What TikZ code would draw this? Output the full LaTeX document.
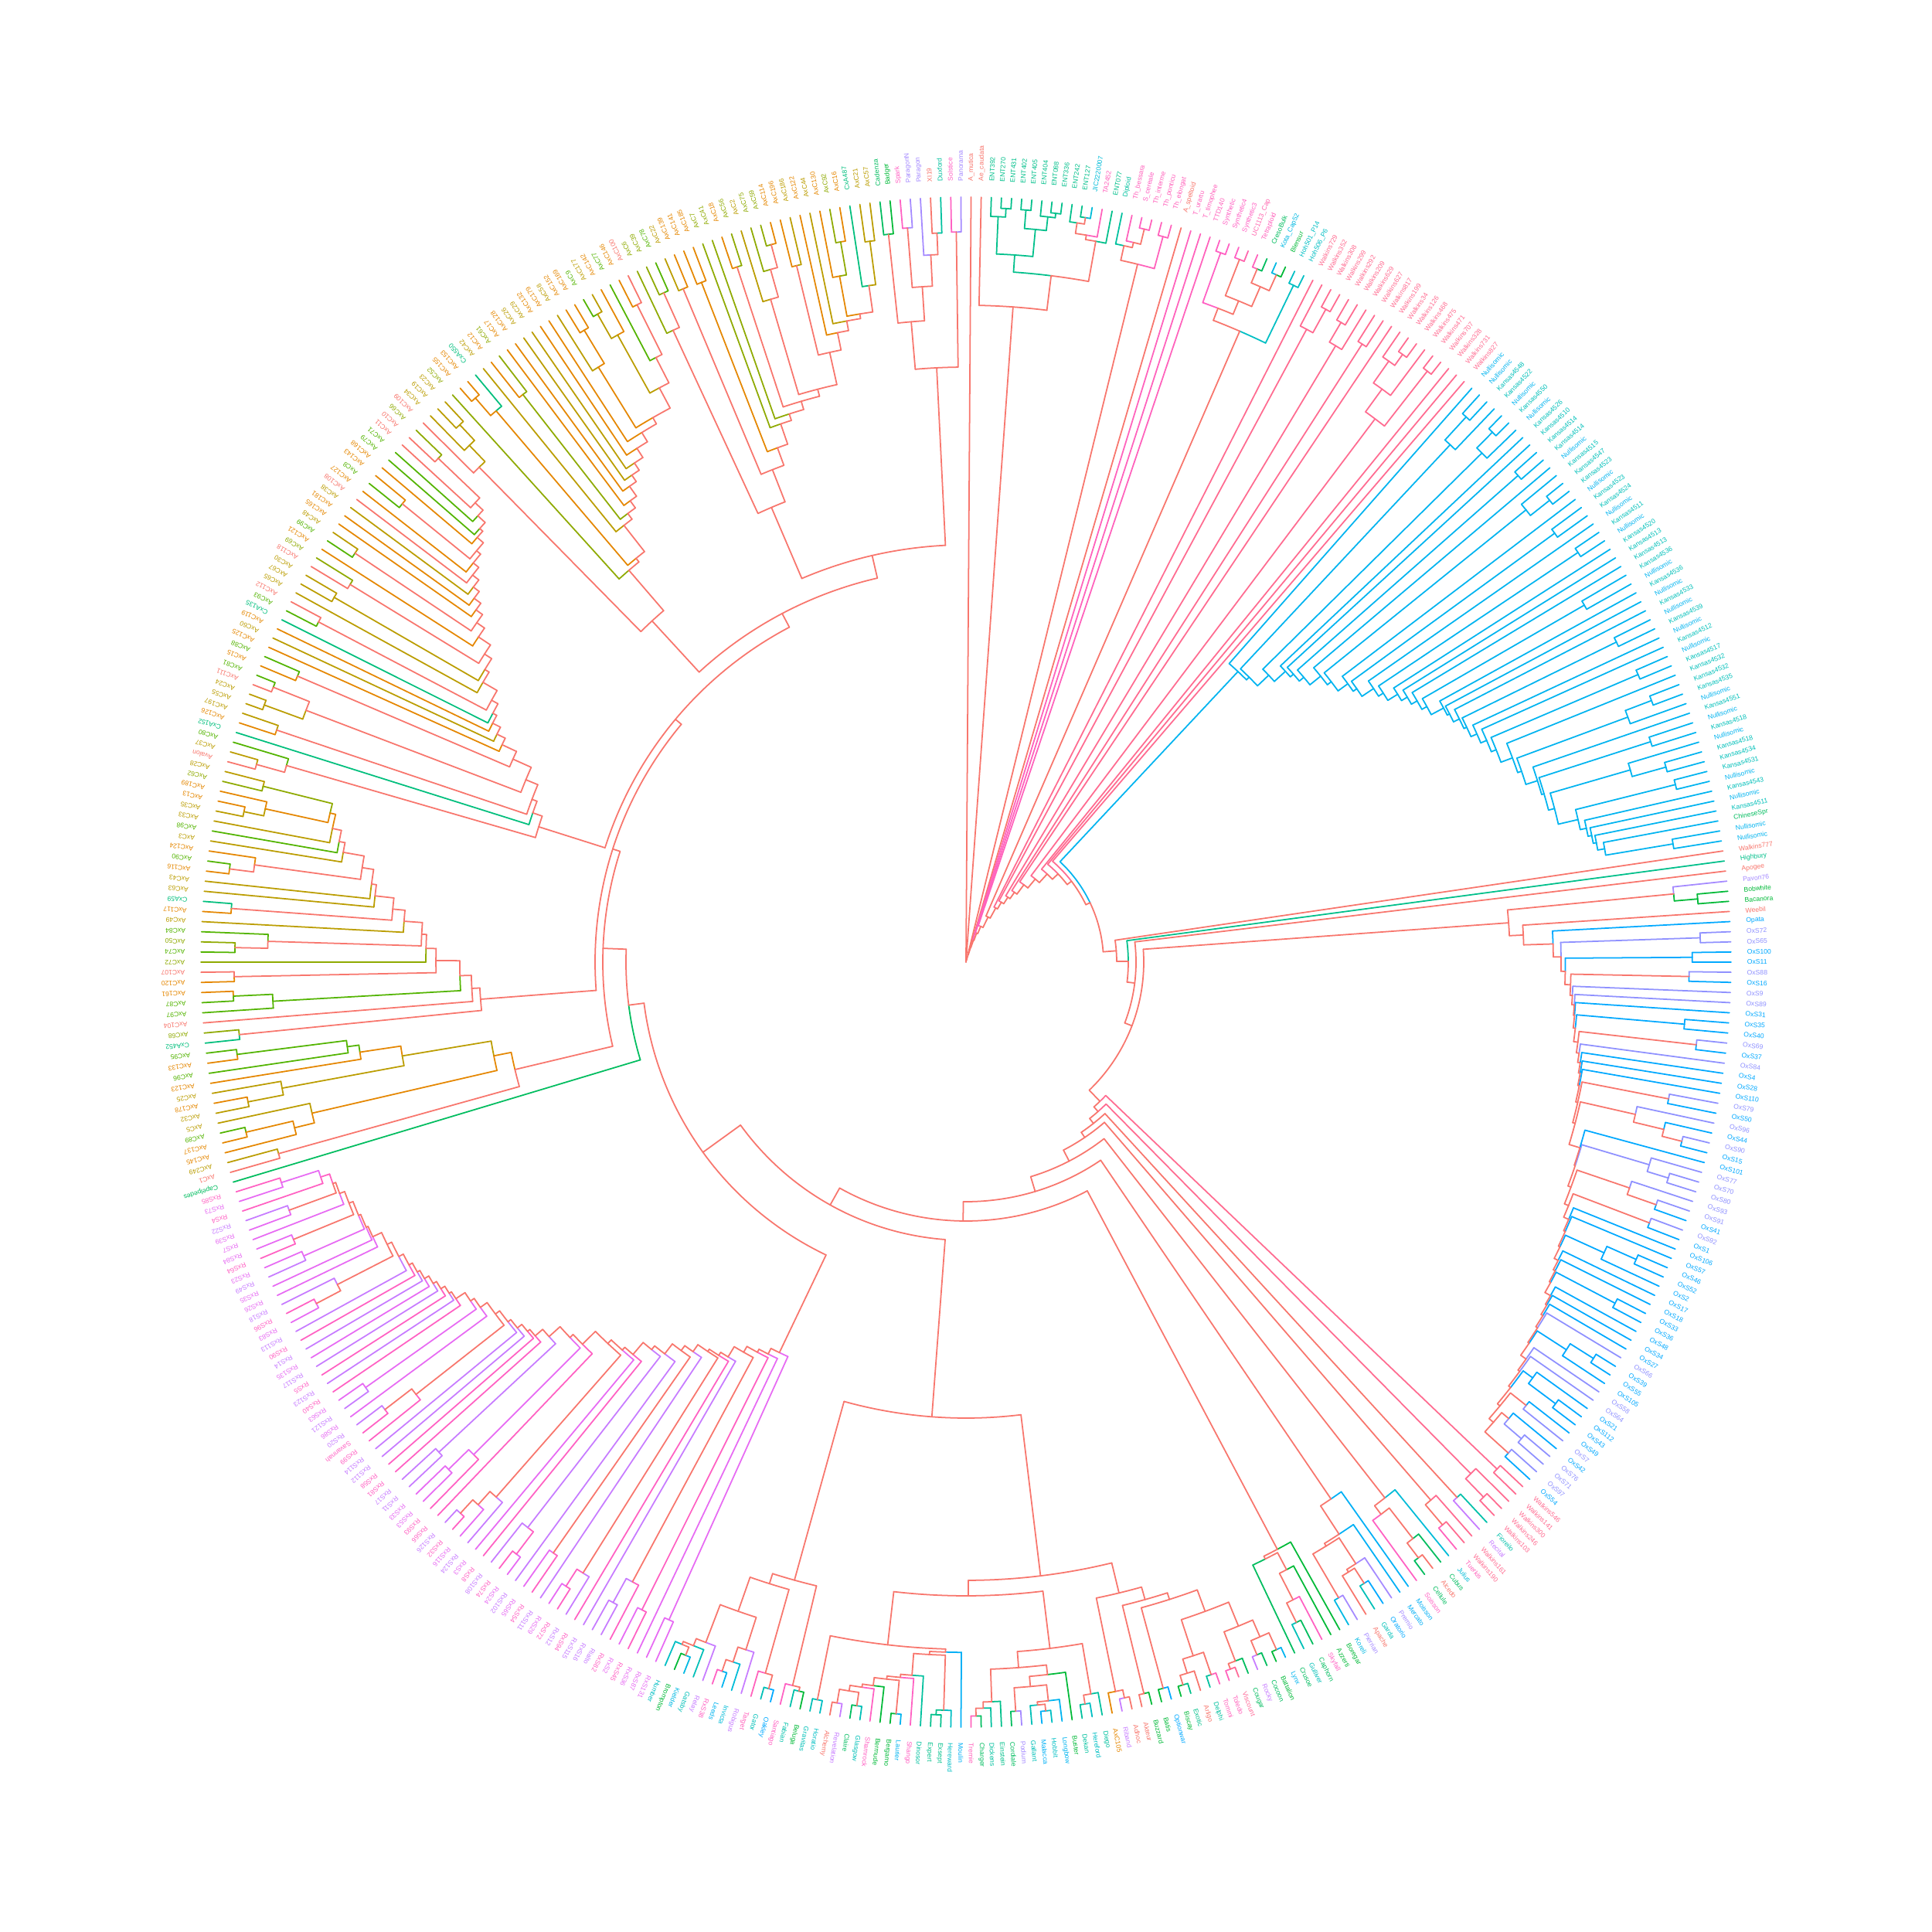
\documentclass[tikz,border=0pt]{standalone}
\usepackage{fontspec}
\newfontfamily\leaffont{Liberation Sans}
\definecolor{mix}{HTML}{F8766D}
\definecolor{cA}{HTML}{F8766D}
\definecolor{cAo}{HTML}{E58700}
\definecolor{cAy}{HTML}{BB9D00}
\definecolor{cAg}{HTML}{8FAA00}
\definecolor{cAG}{HTML}{53B400}
\definecolor{cCx}{HTML}{00BF7D}
\definecolor{cB}{HTML}{00BA38}
\definecolor{cC}{HTML}{00BD5F}
\definecolor{cCS}{HTML}{00BD5F}
\definecolor{cD}{HTML}{00C19F}
\definecolor{cE}{HTML}{00C08B}
\definecolor{cF}{HTML}{00C1AA}
\definecolor{cG}{HTML}{00C0B8}
\definecolor{cH}{HTML}{00BFC4}
\definecolor{cI}{HTML}{00BCD8}
\definecolor{cJ}{HTML}{00BCD8}
\definecolor{cK}{HTML}{00B9E3}
\definecolor{cKan}{HTML}{00C0BA}
\definecolor{cL}{HTML}{00B4F0}
\definecolor{cM}{HTML}{00B0F6}
\definecolor{cN}{HTML}{00B4F0}
\definecolor{cO}{HTML}{00A9FF}
\definecolor{cOl}{HTML}{8F91FF}
\definecolor{cP}{HTML}{A58AFF}
\definecolor{cR}{HTML}{C77CFF}
\definecolor{cRm}{HTML}{E76BF3}
\definecolor{cRp}{HTML}{FF61C3}
\definecolor{cS}{HTML}{FF61C3}
\definecolor{cT}{HTML}{FF62BC}
\definecolor{cU}{HTML}{FF65AE}
\definecolor{cV}{HTML}{FF6A98}
\definecolor{cW}{HTML}{FF6C91}
\expandafter\def\csname bcmap@cKan\endcsname{cN}
\expandafter\def\csname bcmap@cCS\endcsname{cN}
% colour families (mixing inside a family may keep a family colour)
\expandafter\def\csname fam@cAo\endcsname{ax}
\expandafter\def\csname fam@cAy\endcsname{ax}
\expandafter\def\csname fam@cAg\endcsname{ax}
\expandafter\def\csname fam@cAG\endcsname{ax}
\expandafter\def\csname fam@cCx\endcsname{ax}
\expandafter\def\csname fam@cR\endcsname{rx}
\expandafter\def\csname fam@cRm\endcsname{rx}
\expandafter\def\csname fam@cRp\endcsname{rx}
\def\lfnt{\leaffont\fontsize{2.45}{2.7}\selectfont}
% ---------- tree macros ----------
\def\retpos{0}\def\retcol{mix}
\def\famof#1{\ifcsname fam@#1\endcsname\csname fam@#1\endcsname\else x#1\fi}
\def\Tn#1#2#3{%
 \begingroup
 \let\tnMyP\parentr
 \def\parentr{#1}%
 #2\edef\tnPL{\retpos}\edef\tnCL{\retcol}%
 #3\edef\tnPR{\retpos}\edef\tnCR{\retcol}%
 \pgfmathsetmacro\tnPos{(\tnPL+\tnPR)/2}%
 \pgfmathsetmacro\tnAa{90-(\tnPos-0.5)*\dA}%
 \pgfmathsetmacro\tnAl{90-(\tnPL-0.5)*\dA}%
 \pgfmathsetmacro\tnAr{90-(\tnPR-0.5)*\dA}%
 \ifx\tnCL\tnCR \let\tnC\tnCL
 \else
   \edef\tnFL{\famof{\tnCL}}\edef\tnFR{\famof{\tnCR}}%
   \ifx\tnFL\tnFR
     \pgfmathtruncatemacro\tnRr{3*rnd}%
     \ifcase\tnRr\relax \def\tnC{mix}\or \let\tnC\tnCL \else \let\tnC\tnCR \fi
   \else \def\tnC{mix}\fi
 \fi
 \ifdim #1pt>0.01pt
   \draw[color=\tnCL] (\tnAl:#1) arc[start angle=\tnAl, end angle=\tnAa, radius=#1cm];
   \draw[color=\tnCR] (\tnAa:#1) arc[start angle=\tnAa, end angle=\tnAr, radius=#1cm];
   \draw[color=\tnC] (\tnAa:\tnMyP) -- (\tnAa:#1);
 \fi
 \xdef\retpos{\tnPos}\xdef\retcol{\tnC}%
 \endgroup}
\def\Lf#1{%
 \begingroup
 \pgfmathsetmacro\tnA{90-(#1-0.5)*\dA}%
 \edef\tnC{\csname bc@#1\endcsname}%
 \draw[color=\tnC] (\tnA:\parentr) -- (\tnA:\Rt);
 \xdef\retpos{#1}\xdef\retcol{\tnC}%
 \endgroup}
% random split subtree
\def\Sp#1#2#3{%
 \pgfmathtruncatemacro\tns{min(#1+floor(rnd*(#2-#1)),#2-1)}%
 \pgfmathtruncatemacro\tnsp{\tns+1}%
 \edef\tnnext{\noexpand\Tn{#3}{\noexpand\Au{#1}{\tns}}{\noexpand\Au{\tnsp}{#2}}}%
 \tnnext}
\def\Au#1#2{%
 \ifnum#1=#2\relax \Lf{#1}%
 \else
   \pgfmathsetmacro\tnr{max(\parentr+0.04,\Rt-(\Rt-\gRo)*(((#2-#1)/(\gN-1))^\gP)*(0.8+0.4*rnd))}%
   \pgfmathsetmacro\tnr{min(\tnr,\Rt-0.06)}%
   \Sp{#1}{#2}{\tnr}%
 \fi}
\def\Ag#1#2#3#4{%
 \begingroup
 \pgfmathtruncatemacro\gN{#2-#1+1}\edef\gRo{#3}\edef\gP{#4}%
 \Sp{#1}{#2}{#3}%
 \endgroup}
% small side clade off a ladder
\def\Smc#1#2{%
 \ifnum#1=#2\relax \Lf{#1}%
 \else
   \pgfmathsetmacro\smr{max(\parentr+0.12,\Rt-(0.3+0.22*(#2-#1))*(0.7+0.6*rnd))}%
   \Ag{#1}{#2}{\smr}{1}%
 \fi}
% ladder (caterpillar) whose spine radius grows from #3 to #4 along the leaves #1..#2
\def\Cat#1#2#3#4{%
 \ifnum\numexpr#2-#1\relax<2
   \Smc{#1}{#2}%
 \else
   \pgfmathtruncatemacro\ck{1+floor(rnd*rnd*4.5)}%
   \pgfmathtruncatemacro\ck{min(\ck,#2-#1-1)}%
   \pgfmathtruncatemacro\ce{#1+\ck-1}%
   \pgfmathtruncatemacro\cn{\ce+1}%
   \pgfmathsetmacro\cr{#3+(#4-#3)*\ck/(#2-#1+1)*(0.5+rnd)}%
   \pgfmathsetmacro\cr{min(\cr,\Rt-0.5)}%
   \edef\tnnext{\noexpand\Tn{#3}{\noexpand\Smc{#1}{\ce}}{\noexpand\Cat{\cn}{#2}{\cr}{#4}}}%
   \tnnext
 \fi}
% ---------- backbone pieces ----------
\def\OXB{\Tn{7.04}{\Ag{111}{113}{9.2}{1}}{\Tn{7.22}{\Lf{114}}{\Tn{7.6}{\Lf{115}}{\Cat{116}{175}{7.7}{9.2}}}}}
\def\BOTB{\Tn{8.0}{\Ag{205}{223}{8.4}{0.8}}{\Ag{224}{253}{8.2}{0.7}}}
\def\BOTC{\Tn{5.9}{\BOTB}{\Ag{254}{268}{8.3}{0.8}}}
\begin{document}
\begin{tikzpicture}[line width=0.5pt, line cap=round]
\useasboundingbox (-12.5,-12.55) rectangle (12.5,12.45);
\fill[white] (-12.5,-12.55) rectangle (12.5,12.45);
\def\Rt{9.9}\def\Rl{10.1}
\pgfmathsetmacro\dA{360/474}
\pgfmathsetseed{11}
\foreach \lab/\col [count=\i] in {%
A\_mutica/cA,Ae\_caudata/cA,ENT392/cE,ENT270/cE,ENT431/cE,ENT402/cE,ENT405/cE,ENT404/cE,ENT088/cE,ENT336/cE,%10
ENT242/cE,ENT127/cE,JIC2220007/cJ,TA2452/cT,ENT077/cE,Diploid/cD,Th\_bessara/cT,S\_cereale/cS,Th\_interme/cT,Th\_ponticu/cT,%20
Th\_elongat/cT,A\_speltoid/cA,T\_urartu/cT,T\_timophee/cT,TTD140/cT,Synthetic/cS,Synthetic4/cS,Synthetic3/cS,UC1113\_Cap/cU,Tetraploid/cT,%30
CresoBulk/cC,Kota\_Cap52/cK,Blensur/cB,Hoh501\_P14/cH,Hoh506\_P6/cH,Walkins729/cW,Walkins352/cW,Walkins308/cW,Walkins299/cW,Walkins292/cW,%40
Walkins209/cW,Walkins629/cW,Walkins627/cW,Walkins817/cW,Walkins199/cW,Walkins34/cW,Walkins126/cW,Walkins468/cW,Walkins475/cW,Walkins471/cW,%50
Walkins707/cW,Walkins328/cW,Walkins731/cW,Walkins827/cW,Nullisomic/cN,Nullisomic/cN,Kansas4548/cKan,Kansas4522/cKan,Nullisomic/cN,Kansas4550/cKan,%60
Nullisomic/cN,Kansas4526/cKan,Kansas4510/cKan,Kansas4514/cKan,Kansas4514/cKan,Nullisomic/cN,Kansas4515/cKan,Kansas4547/cKan,Kansas4523/cKan,Nullisomic/cN,%70
Kansas4523/cKan,Kansas4524/cKan,Nullisomic/cN,Kansas4511/cKan,Nullisomic/cN,Kansas4520/cKan,Kansas4513/cKan,Kansas4513/cKan,Kansas4536/cKan,Nullisomic/cN,%80
Kansas4536/cKan,Nullisomic/cN,Kansas4533/cKan,Nullisomic/cN,Kansas4539/cKan,Nullisomic/cN,Kansas4512/cKan,Nullisomic/cN,Kansas4517/cKan,Kansas4532/cKan,%90
Kansas4532/cKan,Kansas4535/cKan,Nullisomic/cN,Kansas4551/cKan,Nullisomic/cN,Kansas4518/cKan,Nullisomic/cN,Kansas4518/cKan,Kansas4534/cKan,Kansas4531/cKan,%100
Nullisomic/cN,Kansas4543/cKan,Nullisomic/cN,Kansas4511/cKan,ChineseSpr/cCS,Nullisomic/cN,Nullisomic/cN,Walkins777/cA,Highbury/cE,Apogee/cA,%110
Pavon76/cP,Bobwhite/cB,Bacanora/cB,Weebil/cA,Opata/cO,OxS72/cOl,OxS65/cOl,OxS100/cO,OxS11/cO,OxS88/cOl,%120
OxS16/cO,OxS9/cOl,OxS89/cOl,OxS31/cO,OxS35/cO,OxS40/cO,OxS69/cOl,OxS37/cO,OxS84/cOl,OxS4/cO,%130
OxS28/cO,OxS110/cO,OxS79/cOl,OxS50/cO,OxS96/cOl,OxS44/cO,OxS90/cOl,OxS15/cO,OxS101/cO,OxS77/cOl,%140
OxS70/cOl,OxS80/cOl,OxS93/cOl,OxS91/cOl,OxS41/cO,OxS92/cOl,OxS1/cO,OxS106/cO,OxS57/cO,OxS46/cO,%150
OxS52/cO,OxS2/cO,OxS17/cO,OxS18/cO,OxS33/cO,OxS36/cO,OxS48/cO,OxS34/cO,OxS27/cO,OxS66/cOl,%160
OxS39/cO,OxS55/cO,OxS105/cO,OxS58/cOl,OxS64/cOl,OxS21/cO,OxS112/cO,OxS43/cO,OxS49/cO,OxS7/cOl,%170
OxS42/cO,OxS76/cOl,OxS71/cOl,OxS97/cOl,OxS54/cO,Walkins546/cW,Walkins141/cW,Walkins300/cW,Walkins246/cW,Walkins103/cW,%180
Fioreilo/cF,Recital/cR,Walkins161/cW,Walkins190/cW,Tuerkis/cT,Julius/cJ,Cubus/cC,Alcedo/cA,Cellule/cC,Soisson/cS,%190
Moisson/cM,Mercato/cM,Premio/cP,Oratorio/cO,Garda/cG,Apache/cA,Pierrian/cP,Koreli/cK,Boregar/cB,Azzerti/cB,%200
Skyfall/cS,Caphorn/cC,Gulliver/cG,Crusoe/cC,Lynx/cL,Battalion/cB,Cocoon/cC,Rocky/cR,Cougar/cC,Viscount/cV,%210
Toledo/cT,Tommi/cT,Delphi/cD,Arligo/cA,Exotic/cE,Biscay/cB,Optionwar/cO,Batis/cB,Buzzard/cB,Akteur/cA,%220
Adhoc/cA,Riband/cR,AxC105/cAo,Diego/cD,Hereford/cH,Dekan/cD,Buster/cB,Longbow/cL,Hobbit/cH,Malacca/cM,%230
Gallant/cG,Podium/cP,Cordiale/cC,Einstein/cE,Dickens/cD,Charger/cC,Tremie/cT,Moulin/cM,Hereward/cH,Exsept/cE,%240
Expert/cE,Dinosor/cD,Shango/cS,Laurier/cL,Bergamo/cB,Bermude/cB,Shamrock/cS,Glasgow/cG,Claire/cC,Revelation/cR,%250
Alchemy/cA,Horatio/cH,Gravitas/cG,Beluga/cB,Fabian/cF,Santiago/cS,Oakley/cO,Gator/cG,Target/cT,Robigus/cR,%260
Invicta/cI,Leeds/cL,RxS38/cRp,Relay/cR,Gatsby/cG,Kielder/cK,Brompton/cB,Humber/cH,RxS131/cRm,RxS87/cRm,%270
RxS36/cRm,RxS45/cRp,RxS2/cRm,RxS82/cRp,Rialto/cR,RxS16/cR,RxS115/cR,RxS94/cRp,RxS12/cR,RxS72/cRp,%280
RxS29/cRm,RxS111/cR,RxS54/cRp,RxS65/cRm,RxS102/cR,RxS24/cRm,RxS74/cRp,RxS108/cR,RxS8/cRp,RxS3/cRm,%290
RxS124/cR,RxS116/cRm,RxS32/cRp,RxS126/cR,RxS66/cRp,RxS93/cRp,RxS53/cRm,RxS33/cRm,RxS11/cR,RxS17/cR,%300
RxS81/cRp,RxS58/cRp,RxS112/cR,RxS114/cR,RxS99/cRp,Savannah/cS,RxS20/cR,RxS86/cRm,RxS121/cR,RxS63/cRm,%310
RxS40/cRp,RxS123/cR,RxS5/cRp,RxS117/cR,RxS135/cRm,RxS14/cR,RxS90/cRp,RxS113/cR,RxS83/cRm,RxS96/cRp,%320
RxS18/cR,RxS26/cRm,RxS35/cRm,RxS49/cR,RxS23/cRm,RxS64/cRp,RxS84/cRm,RxS7/cRm,RxS39/cRm,RxS22/cR,%330
RxS4/cRp,RxS73/cRm,RxS85/cRp,Capelpedes/cC,AxC1/cA,AxC249/cAy,AxC145/cAo,AxC137/cAo,AxC89/cAG,AxC5/cAy,%340
AxC32/cAy,AxC178/cAo,AxC25/cAy,AxC123/cAo,AxC96/cAG,AxC133/cAo,AxC95/cAG,CxA452/cCx,AxC68/cAg,AxC104/cA,%350
AxC97/cAG,AxC87/cAG,AxC161/cAo,AxC120/cAo,AxC107/cA,AxC72/cAg,AxC74/cAG,AxC50/cAg,AxC84/cAG,AxC49/cAy,%360
AxC117/cAo,CxA59/cCx,AxC63/cAy,AxC43/cAy,AxC116/cAo,AxC90/cAG,AxC124/cAo,AxC3/cAy,AxC98/cAG,AxC33/cAy,%370
AxC35/cAy,AxC13/cAo,AxC189/cAo,AxC62/cAg,AxC28/cAy,Avalon/cA,AxC37/cAy,AxC80/cAG,CxA152/cCx,AxC126/cAo,%380
AxC197/cAy,AxC55/cAy,AxC24/cAy,AxC111/cA,AxC81/cAG,AxC15/cAo,AxC88/cAG,AxC125/cAo,AxC60/cAy,AxC119/cAo,%390
CxA135/cCx,AxC93/cAG,AxC112/cA,AxC65/cAy,AxC67/cAy,AxC30/cAy,AxC118/cA,AxC69/cAg,AxC121/cAo,AxC99/cAG,%400
AxC48/cAy,AxC165/cAo,AxC181/cAo,AxC38/cAy,AxC108/cA,AxC127/cAo,AxC8/cAG,AxC143/cAo,AxC168/cAo,AxC79/cAG,%410
AxC71/cAG,AxC11/cA,AxC10/cA,AxC66/cAg,AxC109/cA,AxC34/cAy,AxC19/cAy,AxC23/cAy,AxC52/cAg,AxC155/cAo,%420
AxC153/cAo,CxA550/cCx,AxC42/cAy,AxC12/cAo,AxC61/cAg,AxC17/cAo,AxC128/cAo,AxC26/cAy,AxC29/cAy,AxC132/cAo,%430
AxC179/cAo,AxC58/cAy,AxC152/cAo,AxC169/cAo,AxC9/cAG,AxC177/cAy,AxC142/cAo,AxC77/cAG,AxC146/cAo,AxC100/cA,%440
AxC6/cAg,AxC39/cAg,AxC78/cAG,AxC22/cAy,AxC139/cAo,AxC141/cAo,AxC185/cAo,AxC7/cAg,AxC41/cAg,AxC18/cAo,%450
AxC56/cAg,AxC2/cAy,AxC75/cAg,AxC59/cAg,AxC114/cAo,AxC196/cAo,AxC186/cAy,AxC122/cAo,AxC44/cAy,AxC130/cAo,%460
AxC92/cAg,AxC16/cAo,CxA487/cCx,AxC21/cAy,AxC57/cAy,Cadenza/cC,Badger/cB,Spark/cS,ParagonN/cP,Paragon/cP,%470
XI19/cA,Duxford/cD,Solstice/cS,Panorama/cP%474
}{%
 \pgfmathsetmacro\ang{90-(\i-0.5)*\dA}%
 \node[rotate=\ang, anchor=west, inner sep=0pt, text=\col, font=\lfnt] (lab\i) at (\ang:\Rl) {\lab};
 \ifcsname bcmap@\col\endcsname
   \expandafter\xdef\csname bc@\i\endcsname{\csname bcmap@\col\endcsname}%
 \else
   \expandafter\xdef\csname bc@\i\endcsname{\col}%
 \fi
}
\def\parentr{0}
\Tn{0}{\Lf{1}}{%
\Tn{0.03}{\Tn{8.5}{\Lf{2}}{\Ag{3}{15}{8.95}{0.8}}}{%
\Tn{0.1}{\Ag{16}{21}{9.3}{0.8}}{%
\Tn{0.2}{\Lf{22}}{%
\Tn{0.3}{\Lf{23}}{%
\Tn{0.4}{\Lf{24}}{%
\Tn{0.5}{\Lf{25}}{%
\Tn{0.65}{\Ag{26}{35}{8.9}{0.8}}{%
\Tn{0.8}{\Lf{36}}{%
\Tn{0.9}{\Ag{37}{39}{9.3}{1}}{%
\Tn{1.0}{\Ag{40}{42}{9.3}{1}}{%
\Tn{1.1}{\Ag{43}{44}{9.5}{1}}{%
\Tn{1.25}{\Lf{45}}{%
\Tn{1.4}{\Ag{46}{51}{8.8}{1}}{%
\Tn{1.55}{\Lf{52}}{%
\Tn{1.65}{\Lf{53}}{%
\Tn{1.72}{\Lf{54}}{%
\Tn{1.78}{\Cat{55}{107}{5.15}{8.6}}{%
\Tn{1.95}{\Lf{108}}{%
\Tn{2.1}{\Lf{109}}{%
\Tn{2.2}{\Lf{110}}{%
\Tn{2.3}{\OXB}{%
\Tn{2.5}{\Ag{176}{177}{9.5}{1}}{%
\Tn{2.58}{\Ag{178}{180}{9.3}{1}}{%
\Tn{2.66}{\Ag{181}{182}{9.4}{1}}{%
\Tn{2.74}{\Ag{183}{185}{9.2}{1}}{%
\Tn{2.9}{\Ag{186}{190}{8.8}{1}}{%
\Tn{3.1}{\Ag{191}{198}{8.4}{0.8}}{%
\Tn{3.35}{\Ag{199}{204}{8.6}{0.8}}{%
\Tn{3.6}{\BOTC}{%
\Tn{4.2}{\Cat{269}{333}{5.6}{9.0}}{%
\Tn{4.4}{\Lf{334}}{%
\Tn{4.7}{\Cat{335}{347}{6.0}{8.6}}{%
\Tn{4.8}{\Cat{348}{375}{6.3}{9.0}}{%
\Tn{4.9}{\Cat{376}{414}{5.8}{9.0}}{%
\Tn{5.1}{\Cat{415}{440}{6.0}{9.0}}{%
\Tn{5.4}{\Cat{441}{465}{6.4}{9.0}}{%
\Ag{466}{474}{7.7}{0.8}%
}}}}}}}}}}}}}}}}}}}}}}}}}}}}}}}}}}}}}
\end{tikzpicture}
\end{document}
